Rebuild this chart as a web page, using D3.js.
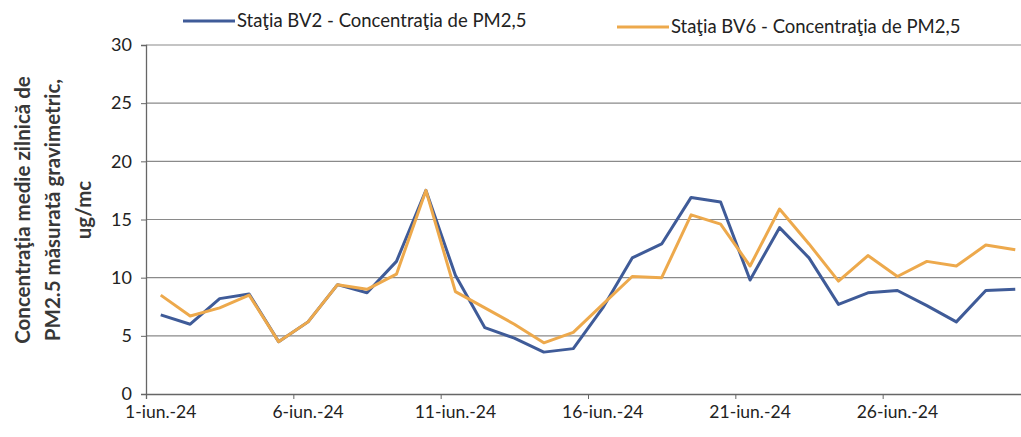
<!DOCTYPE html>
<html>
<head>
<meta charset="utf-8">
<script src="https://cdn.jsdelivr.net/npm/d3@7"></script>
<style>
  body { margin: 0; background: #fff; }
  svg { display: block; font-family: Lato, "Open Sans", sans-serif; }
</style>
</head>
<body>
<script>
(function () {
  'use strict'

  // zile 1..30 iunie 2024
  var days = d3.range(1, 31)
  var tickLabels = ['1-iun.-24', '6-iun.-24', '11-iun.-24', '16-iun.-24', '21-iun.-24', '26-iun.-24']
  var tickDays = [1, 6, 11, 16, 21, 26]
  var yTicks = [0, 5, 10, 15, 20, 25, 30]

  var bv2 = [6.8, 6.0, 8.2, 8.6, 4.5, 6.2, 9.4, 8.7, 11.4, 17.5,
    10.2, 5.7, 4.8, 3.6, 3.9, 7.4, 11.7, 12.9, 16.9, 16.5,
    9.8, 14.3, 11.7, 7.7, 8.7, 8.9, 7.6, 6.2, 8.9, 9.0]
  var bv6 = [8.5, 6.7, 7.4, 8.5, 4.5, 6.2, 9.4, 9.0, 10.3, 17.5,
    8.8, 7.4, 6.0, 4.4, 5.3, 7.7, 10.1, 10.0, 15.4, 14.6,
    11.0, 15.9, 12.9, 9.7, 11.9, 10.1, 11.4, 11.0, 12.8, 12.4]

  var seriesNames = ['Staţia BV2 - Concentraţia de PM2,5', 'Staţia BV6 - Concentraţia de PM2,5']
  var colors = ['#3f5b98', '#eda94c']

  var w = 1021
  var h = 437

  var x = d3.scaleLinear().domain([0.5, 30.5]).range([146, 1030])
  var y = d3.scaleLinear().domain([0, 30]).range([394, 45])

  var svg = d3.select('body').append('svg')
    .attr('width', w)
    .attr('height', h)

  // gridlines
  svg.append('g')
    .selectAll('line')
    .data(yTicks.slice(1))
    .enter().append('line')
      .attr('x1', x(0.5))
      .attr('x2', w)
      .attr('y1', function (d) { return y(d) })
      .attr('y2', function (d) { return y(d) })
      .attr('stroke', '#8a8a8a')
      .attr('stroke-width', 1.2)

  // y axis
  var yAxis = svg.append('g')
    .attr('transform', 'translate(' + x(0.5) + ',0)')
    .call(d3.axisLeft(y).tickValues(yTicks).tickSize(5).tickPadding(9))
  yAxis.select('.domain').attr('stroke', '#666').attr('stroke-width', 1.3)
  yAxis.selectAll('.tick line').attr('stroke', '#666')
  yAxis.selectAll('text')
    .attr('font-size', 18)
    .attr('fill', '#222')
    .style('font-family', 'Lato, sans-serif')

  // x axis, ticks between categories every 5 days
  var xAxis = svg.append('g')
    .attr('transform', 'translate(0,' + y(0) + ')')
    .call(d3.axisBottom(x)
      .tickValues([0.5, 5.5, 10.5, 15.5, 20.5, 25.5])
      .tickSize(5)
      .tickFormat(''))
  xAxis.select('.domain').attr('stroke', '#666').attr('stroke-width', 1.3)
  xAxis.selectAll('.tick line').attr('stroke', '#666')

  svg.append('g')
    .selectAll('text')
    .data(tickDays)
    .enter().append('text')
      .attr('x', function (d) { return x(d) })
      .attr('y', 418)
      .attr('text-anchor', 'middle')
      .attr('font-size', 17.5)
      .attr('fill', '#222')
      .text(function (d, i) { return tickLabels[i] })

  // y title
  var title = svg.append('text')
    .attr('transform', 'translate(57,210) rotate(-90)')
    .attr('text-anchor', 'middle')
    .attr('font-size', 20.5)
    .attr('font-weight', 'bold')
    .attr('fill', '#383838')
  title.append('tspan').attr('x', 0).attr('dy', '-1.3em').text('Concentraţia medie zilnică de')
  title.append('tspan').attr('x', 0).attr('dy', '1.45em').text('PM2.5 măsurată gravimetric,')
  title.append('tspan').attr('x', 0).attr('dy', '1.5em').text('ug/mc')

  // lines
  var line = d3.line()
    .x(function (d, i) { return x(days[i]) })
    .y(function (d) { return y(d) })

  svg.append('path')
    .datum(bv2)
    .attr('d', line)
    .attr('fill', 'none')
    .attr('stroke', colors[0])
    .attr('stroke-width', 3)
    .attr('stroke-linejoin', 'round')

  svg.append('path')
    .datum(bv6)
    .attr('d', line)
    .attr('fill', 'none')
    .attr('stroke', colors[1])
    .attr('stroke-width', 3)
    .attr('stroke-linejoin', 'round')

  // legend
  var legendPos = [[183, 21], [617, 27]]
  var legend = svg.append('g')
    .selectAll('g')
    .data(seriesNames)
    .enter().append('g')
      .attr('transform', function (d, i) {
        return 'translate(' + legendPos[i][0] + ',' + legendPos[i][1] + ')'
      })
  legend.append('line')
    .attr('x1', 0)
    .attr('x2', 52)
    .attr('stroke', function (d, i) { return colors[i] })
    .attr('stroke-width', 3)
  legend.append('text')
    .attr('x', 54)
    .attr('y', 6)
    .attr('font-size', 18.5)
    .attr('fill', '#222')
    .text(function (d) { return d })
}())
</script>
</body>
</html>
